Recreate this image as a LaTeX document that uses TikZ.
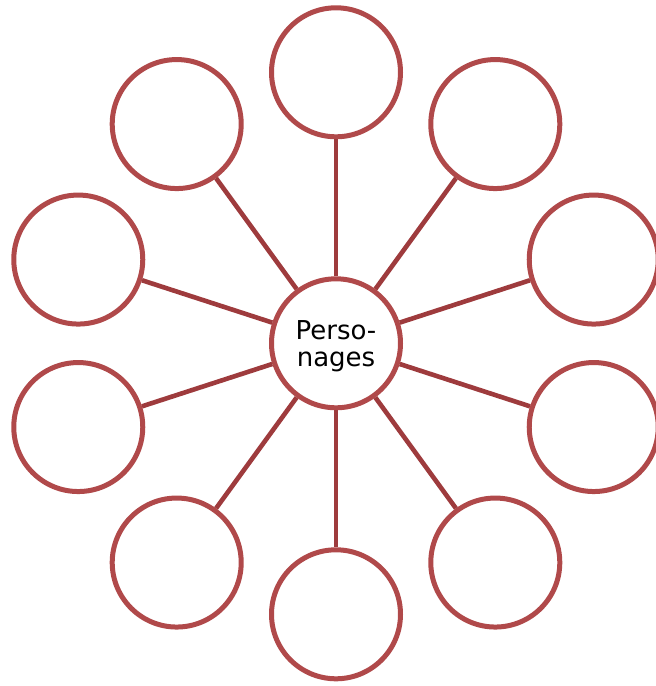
\documentclass[tikz,border=0pt]{standalone}
\usepackage{fontspec}
\setmainfont{DejaVu Sans}
\usetikzlibrary{calc}
\definecolor{ringred}{HTML}{B0494A}
\definecolor{spokered}{HTML}{9E3B3D}
\begin{document}
\begin{tikzpicture}[x=1pt,y=1pt,
  ring/.style={circle,draw=ringred,line width=5pt,fill=white,minimum size=129pt,inner sep=0pt},
  spoke/.style={draw=spokered,line width=4.6pt},
  label text/.style={align=center,inner sep=0pt,font=\fontsize{26}{27}\selectfont}]
\useasboundingbox (0,0) rectangle (656,686);
\node[ring] (c) at (336,342.7) {};
\node[label text] (ctext) at ([yshift=-3pt]c.center) {Perso-\\nages};
\foreach \i in {0,...,9} {
  \pgfmathsetmacro{\ang}{90-36*\i}
  \node[ring] (o\i) at ($(336,342.7)+(\ang:271)$) {};
}
\foreach \i in {0,...,9} {
  \draw[spoke] (c) -- (o\i);
}
\end{tikzpicture}
\end{document}
